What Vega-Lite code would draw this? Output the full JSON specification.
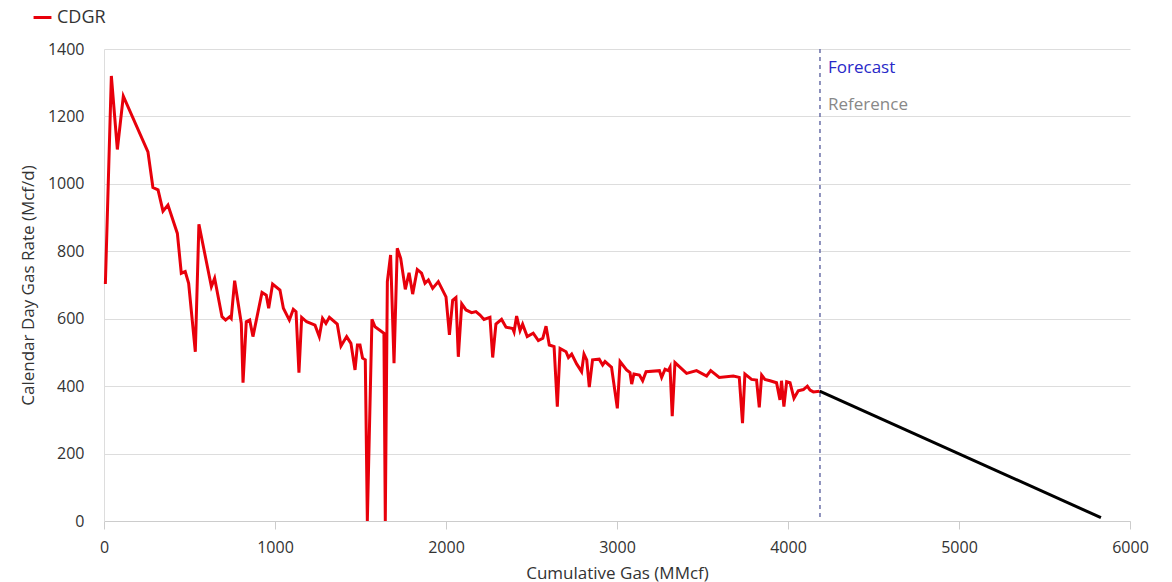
{
  "$schema": "https://vega.github.io/schema/vega-lite/v6.json",
  "width": 1026,
  "height": 472,
  "autosize": {"type": "none"},
  "padding": {"left": 104, "top": 49, "right": 42, "bottom": 61},
  "background": "white",
  "config": {
    "font": "Open Sans",
    "view": {"stroke": null},
    "axis": {"labelFont": "Open Sans", "titleFont": "Open Sans", "labelFontSize": 16, "titleFontSize": 17, "labelColor": "#333333", "titleColor": "#333333", "titleFontWeight": "normal", "format": "d"}
  },
  "datasets": {
    "hist": [
      {"x":8,"y":703},{"x":43,"y":1320},{"x":78,"y":1102},{"x":113,"y":1260},{"x":257,"y":1095},{"x":286,"y":989},{"x":316,"y":982},{"x":345,"y":919},{"x":374,"y":937},{"x":429,"y":853},{"x":452,"y":735},{"x":475,"y":740},{"x":495,"y":705},{"x":534,"y":502},{"x":555,"y":880},{"x":628,"y":695},{"x":647,"y":720},{"x":690,"y":606},{"x":711,"y":596},{"x":735,"y":606},{"x":744,"y":601},{"x":764,"y":713},{"x":803,"y":586},{"x":813,"y":410},{"x":832,"y":591},{"x":852,"y":596},{"x":871,"y":547},{"x":924,"y":678},{"x":949,"y":670},{"x":963,"y":631},{"x":986,"y":703},{"x":1029,"y":685},{"x":1049,"y":631},{"x":1084,"y":596},{"x":1107,"y":628},{"x":1123,"y":621},{"x":1140,"y":440},{"x":1156,"y":604},{"x":1185,"y":591},{"x":1234,"y":581},{"x":1259,"y":547},{"x":1278,"y":601},{"x":1298,"y":586},{"x":1318,"y":604},{"x":1364,"y":584},{"x":1386,"y":519},{"x":1419,"y":547},{"x":1444,"y":527},{"x":1468,"y":448},{"x":1482,"y":522},{"x":1497,"y":522},{"x":1512,"y":483},{"x":1528,"y":478},{"x":1540,"y":0},{"x":1567,"y":598},{"x":1585,"y":576},{"x":1637,"y":557},{"x":1645,"y":0},{"x":1657,"y":710},{"x":1676,"y":789},{"x":1696,"y":468},{"x":1715,"y":809},{"x":1735,"y":779},{"x":1762,"y":687},{"x":1784,"y":736},{"x":1805,"y":673},{"x":1832,"y":746},{"x":1857,"y":735},{"x":1877,"y":705},{"x":1897,"y":715},{"x":1922,"y":690},{"x":1955,"y":710},{"x":2000,"y":665},{"x":2020,"y":552},{"x":2039,"y":655},{"x":2058,"y":663},{"x":2072,"y":487},{"x":2092,"y":644},{"x":2117,"y":626},{"x":2150,"y":618},{"x":2175,"y":621},{"x":2199,"y":611},{"x":2222,"y":598},{"x":2257,"y":604},{"x":2273,"y":485},{"x":2292,"y":584},{"x":2325,"y":598},{"x":2351,"y":575},{"x":2390,"y":571},{"x":2398,"y":561},{"x":2413,"y":608},{"x":2433,"y":565},{"x":2448,"y":584},{"x":2475,"y":547},{"x":2510,"y":557},{"x":2540,"y":535},{"x":2566,"y":542},{"x":2585,"y":578},{"x":2604,"y":522},{"x":2632,"y":517},{"x":2651,"y":339},{"x":2667,"y":512},{"x":2702,"y":502},{"x":2716,"y":485},{"x":2735,"y":495},{"x":2764,"y":466},{"x":2793,"y":443},{"x":2807,"y":495},{"x":2823,"y":478},{"x":2838,"y":397},{"x":2857,"y":478},{"x":2896,"y":480},{"x":2916,"y":463},{"x":2930,"y":473},{"x":2968,"y":456},{"x":3002,"y":334},{"x":3018,"y":473},{"x":3056,"y":448},{"x":3076,"y":440},{"x":3086,"y":406},{"x":3099,"y":436},{"x":3131,"y":433},{"x":3150,"y":416},{"x":3170,"y":443},{"x":3248,"y":446},{"x":3261,"y":426},{"x":3281,"y":450},{"x":3300,"y":446},{"x":3310,"y":456},{"x":3323,"y":311},{"x":3339,"y":470},{"x":3407,"y":438},{"x":3465,"y":446},{"x":3524,"y":430},{"x":3548,"y":446},{"x":3598,"y":426},{"x":3680,"y":430},{"x":3715,"y":426},{"x":3734,"y":290},{"x":3748,"y":436},{"x":3787,"y":420},{"x":3816,"y":418},{"x":3832,"y":337},{"x":3846,"y":433},{"x":3865,"y":420},{"x":3895,"y":416},{"x":3933,"y":410},{"x":3953,"y":359},{"x":3962,"y":416},{"x":3976,"y":339},{"x":3992,"y":413},{"x":4012,"y":410},{"x":4035,"y":364},{"x":4060,"y":386},{"x":4090,"y":390},{"x":4113,"y":400},{"x":4129,"y":388},{"x":4148,"y":383},{"x":4185,"y":385}
    ],
    "fc": [{"x":4185,"y":385},{"x":5830,"y":10}],
    "marker": [{"x":4187}],
    "notes": [{"x":4234,"y":1344,"label":"Forecast"},{"x":4234,"y":1234,"label":"Reference"}]
  },
  "layer": [
    {
      "data": {"name": "marker"},
      "mark": {"type": "rule", "color": "#6a6fa8", "strokeDash": [4, 4], "strokeWidth": 1.5},
      "encoding": {
        "x": {"field": "x", "type": "quantitative", "scale": {"domain": [0, 6000], "nice": false},
          "axis": {"title": "Cumulative Gas (MMcf)", "values": [0,1000,2000,3000,4000,5000,6000], "labelFlush": false, "grid": false, "domainColor": "#cccccc", "tickColor": "#cccccc", "tickSize": 8, "labelPadding": 10, "titlePadding": 10}}
      }
    },
    {
      "data": {"name": "hist"},
      "mark": {"type": "line", "strokeWidth": 3, "interpolate": "linear"},
      "encoding": {
        "x": {"field": "x", "type": "quantitative"},
        "y": {"field": "y", "type": "quantitative", "scale": {"domain": [0, 1400], "nice": false},
          "axis": {"title": "Calendar Day Gas Rate (Mcf/d)", "values": [0,200,400,600,800,1000,1200,1400], "labelFlush": false, "grid": true, "gridColor": "#dddddd", "domainColor": "#dddddd", "ticks": false, "tickSize": 0, "labelPadding": 20, "titlePadding": 10}},
        "color": {"datum": "CDGR", "type": "nominal", "scale": {"domain": ["CDGR"], "range": ["#e8000b"]},
          "legend": {"title": null, "orient": "none", "legendX": -72, "legendY": -42, "symbolType": "stroke", "symbolSize": 320, "symbolStrokeWidth": 3, "labelFontSize": 18, "labelColor": "#333333", "labelFont": "Open Sans"}}
      }
    },
    {
      "data": {"name": "fc"},
      "mark": {"type": "line", "strokeWidth": 3, "color": "#000000"},
      "encoding": {
        "x": {"field": "x", "type": "quantitative"},
        "y": {"field": "y", "type": "quantitative"}
      }
    },
    {
      "data": {"name": "notes"},
      "mark": {"type": "text", "align": "left", "baseline": "middle", "fontSize": 17, "font": "Open Sans"},
      "encoding": {
        "x": {"field": "x", "type": "quantitative"},
        "y": {"field": "y", "type": "quantitative"},
        "text": {"field": "label"},
        "color": {"condition": {"test": "datum.label === 'Forecast'", "value": "#2828c8"}, "value": "#888888"}
      }
    }
  ]
}
